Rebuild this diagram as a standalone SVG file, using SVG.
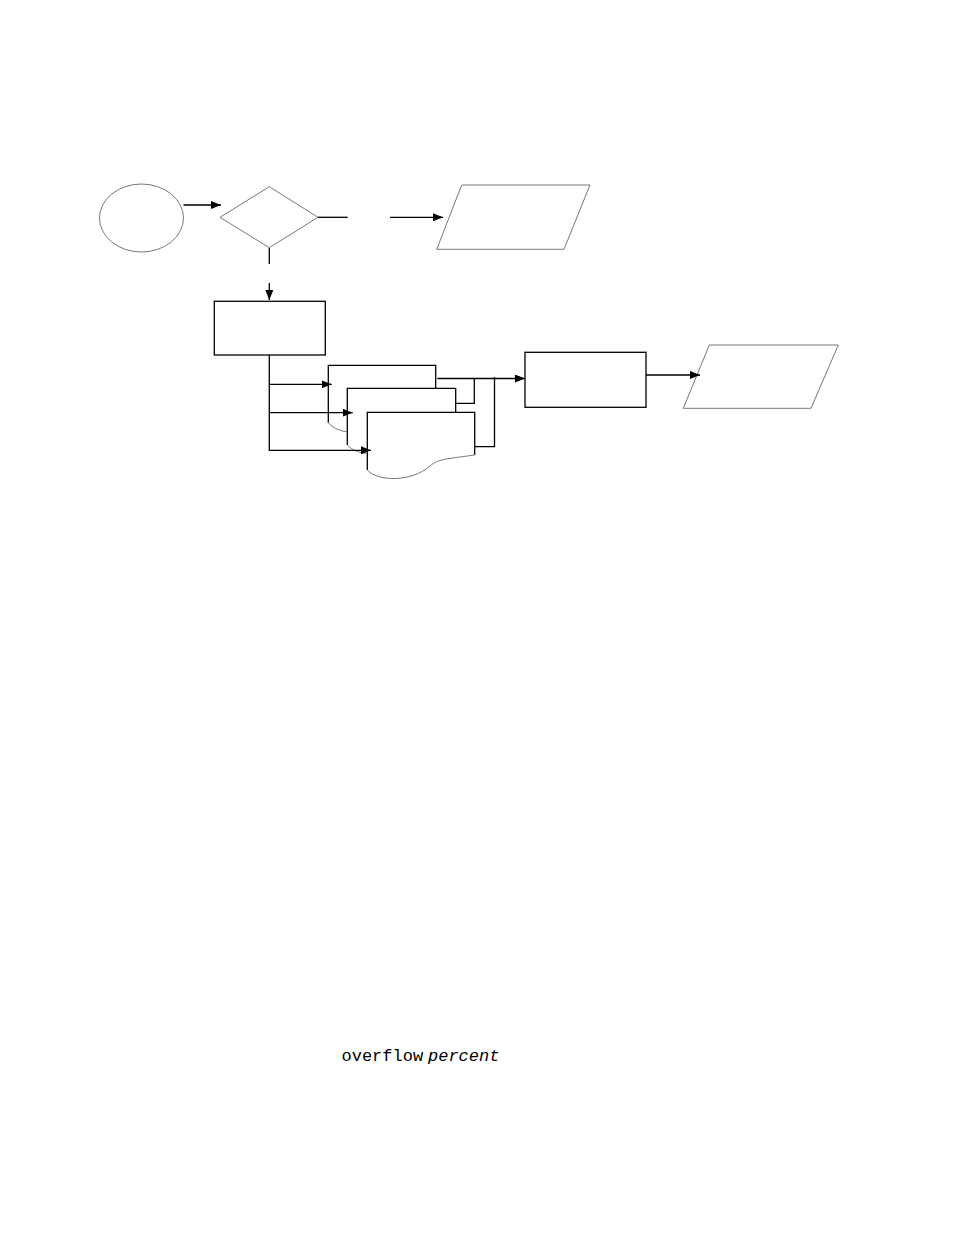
<svg xmlns="http://www.w3.org/2000/svg" width="954" height="1235" viewBox="0 0 954 1235">
<defs>
<marker id="ah" markerWidth="10" markerHeight="8" refX="10" refY="4" orient="auto" markerUnits="userSpaceOnUse">
<path d="M0,0 L10,4 L0,8 Z" fill="#000"/>
</marker>
<style>
.g{fill:#fff;stroke:#777;stroke-width:1}
.b{fill:#fff;stroke:#000;stroke-width:1.3}
.c{fill:none;stroke:#000;stroke-width:1.3}
.w{fill:none;stroke:#777;stroke-width:1}
.t{font-family:"Liberation Mono","Courier New",monospace;font-size:17px;fill:#000}
</style>
</defs>
<rect width="954" height="1235" fill="#fff"/>
<g id="start"><ellipse class="g" cx="141.5" cy="218" rx="42" ry="34"/></g>
<g id="decision"><polygon class="g" points="220,217.3 269.3,186.7 318,217.3 269.3,247.7"/></g>
<g id="output1"><polygon class="g" points="461.7,185 590,185 564,249.3 436.7,249.3"/></g>
<g id="process1"><rect class="b" x="214.3" y="301.3" width="111" height="53.7"/></g>
<g id="doc1"><path class="b" d="M328.3,422.7 L328.3,365.3 L435.7,365.3 L435.7,388.3"/><path class="w" d="M328.3,422.7 C333,428 340,431 346.7,431.7"/></g>
<g id="doc2"><path class="b" d="M347.3,445 L347.3,388.3 L455.7,388.3 L455.7,412.3"/><path class="w" d="M347.3,445 C352,450 359,453 366.7,453.3"/></g>
<g id="doc3"><path class="b" d="M367.3,470 L367.3,412.3 L474.7,412.3 L474.7,455"/><path class="w" d="M367.3,470 C378,482 412,482 430,466 C438,459 446,459 474.7,455"/></g>
<g id="process2"><rect class="b" x="525" y="352.3" width="121" height="55"/></g>
<g id="output2"><polygon class="g" points="709.3,345 838.3,345 811,408.3 683.3,408.3"/></g>
<g id="connectors">
<line class="c" x1="183.5" y1="205" x2="221" y2="205" marker-end="url(#ah)"/>
<line class="c" x1="318" y1="217.3" x2="347.7" y2="217.3"/>
<line class="c" x1="390" y1="217.3" x2="443" y2="217.3" marker-end="url(#ah)"/>
<line class="c" x1="269.3" y1="248" x2="269.3" y2="264"/>
<line class="c" x1="269.3" y1="283" x2="269.3" y2="300" marker-end="url(#ah)"/>
<path class="c" d="M269.3,355 L269.3,450.3 L371,450.3" marker-end="url(#ah)"/>
<line class="c" x1="269.3" y1="384.3" x2="331.7" y2="384.3" marker-end="url(#ah)"/>
<line class="c" x1="269.3" y1="412.7" x2="352.7" y2="412.7" marker-end="url(#ah)"/>
<line class="c" x1="437.3" y1="378.5" x2="525" y2="378.5" marker-end="url(#ah)"/>
<path class="c" d="M455.7,403.3 L474.3,403.3 L474.3,378.5"/>
<path class="c" d="M474.7,446.7 L494.5,446.7 L494.5,377"/>
<line class="c" x1="646" y1="375" x2="700" y2="375" marker-end="url(#ah)"/>
</g>
<text class="t" x="341.5" y="1061">overflow</text>
<text class="t" x="428" y="1061" font-style="italic">percent</text>
</svg>
